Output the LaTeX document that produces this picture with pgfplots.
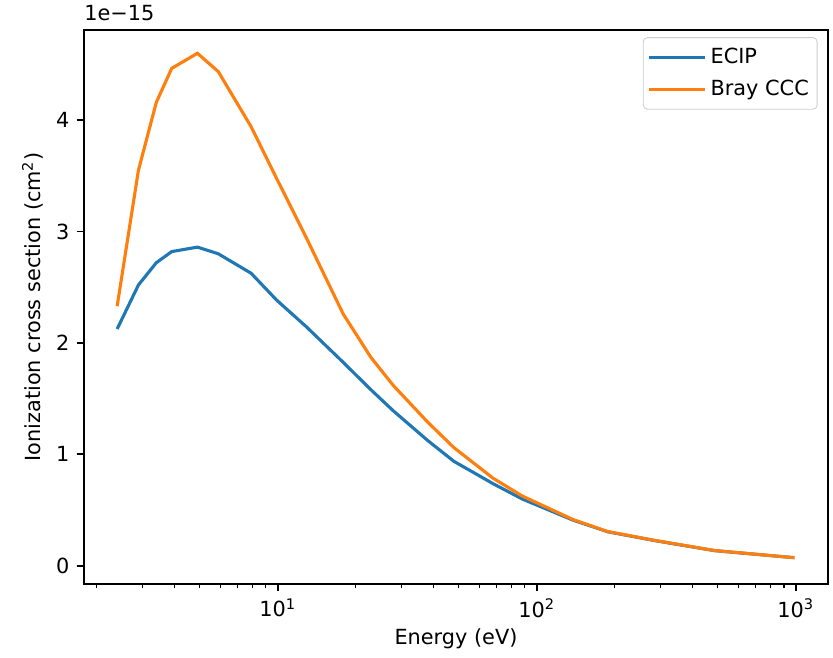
\documentclass[border=0pt]{standalone}
\usepackage{pgfplots}
\pgfplotsset{compat=1.18}
\usepackage{fontspec}
\setmainfont{DejaVu Sans}
\usetikzlibrary{calc}

\definecolor{tabblue}{HTML}{1F77B4}
\definecolor{taborange}{HTML}{FF7F0E}

% Ionization cross sections, in units of 1e-15 cm^2
\pgfplotstableread{
E      sigma
2.4    2.125
2.9    2.52
3.4    2.72
3.9    2.82
4.9    2.86
5.9    2.80
7.9    2.625
9.9    2.385
12.9   2.145
17.9   1.826
22.9   1.58
27.9   1.392
37.9   1.125
47.9   0.937
67.9   0.736
87.9   0.599
137.9  0.410
187.9  0.305
287.9  0.224
487.9  0.135
987.9  0.072
}\ecip

\pgfplotstableread{
E      sigma
2.4    2.33
2.9    3.55
3.4    4.16
3.9    4.465
4.9    4.60
5.9    4.435
7.9    3.94
9.9    3.477
12.9   2.944
17.9   2.26
22.9   1.87
27.9   1.62
37.9   1.29
47.9   1.06
67.9   0.785
87.9   0.626
137.9  0.415
187.9  0.307
287.9  0.226
487.9  0.136
987.9  0.072
}\bray

\begin{document}
\begin{tikzpicture}[x=1pt,y=1pt]
\begin{semilogxaxis}[
  scale only axis,
  width=357.1pt, height=265.9pt,
  xmin=1.787, xmax=1332,
  ymin=-0.164, ymax=4.809,
  xtick={10,100,1000},
  xticklabels={10\textsuperscript{1},10\textsuperscript{2},10\textsuperscript{3}},
  minor xtick={2,3,4,5,6,7,8,9,20,30,40,50,60,70,80,90,200,300,400,500,600,700,800,900},
  ytick={0,1,2,3,4},
  /pgf/number format/assume math mode=true,
  tick align=outside,
  tick pos=left,
  major tick length=3.5pt,
  minor tick length=2pt,
  every tick/.style={black, line width=0.8pt},
  minor tick style={line width=0.6pt},
  axis line style={line width=0.8pt},
  ticklabel style={font=\fontsize{10}{12}\selectfont},
  xlabel={Energy (eV)},
  ylabel={Ionization cross section (cm\textsuperscript{2})},
  label style={font=\fontsize{10}{12}\selectfont},
  xlabel style={at={(axis description cs:0.5,0)}, anchor=north, yshift=-18pt},
  ylabel style={at={(axis description cs:0,0.5)}, anchor=south, yshift=16pt},
  legend style={at={(axis description cs:0.986,0.987)}, anchor=north east,
    draw=black!20, rounded corners=2pt, fill=white, fill opacity=0.8, text opacity=1,
    font=\fontsize{10}{12}\selectfont, row sep=2.5pt, inner xsep=2pt, inner ysep=3pt},
  legend cell align=left,
  legend image code/.code={\draw[#1] (0pt,0pt) -- (21pt,0pt); \path (0pt,0pt) -- (26.8pt,0pt);},
  clip=false,
]
\addplot[color=tabblue, line width=1.5pt] table[x=E, y=sigma] {\ecip};
\addlegendentry{ECIP}
\addplot[color=taborange, line width=1.5pt] table[x=E, y=sigma] {\bray};
\addlegendentry{Bray CCC}
\node[anchor=south west, inner sep=0pt, font=\fontsize{10}{12}\selectfont]
  at ($(rel axis cs:0,1)+(0pt,4pt)$) {1e−15};
\end{semilogxaxis}
\pgfresetboundingbox
\path ($(current axis.south west)+(-40.3pt,-35.5pt)$) rectangle ($(current axis.north east)+(2.4pt,14.4pt)$);
\end{tikzpicture}
\end{document}
